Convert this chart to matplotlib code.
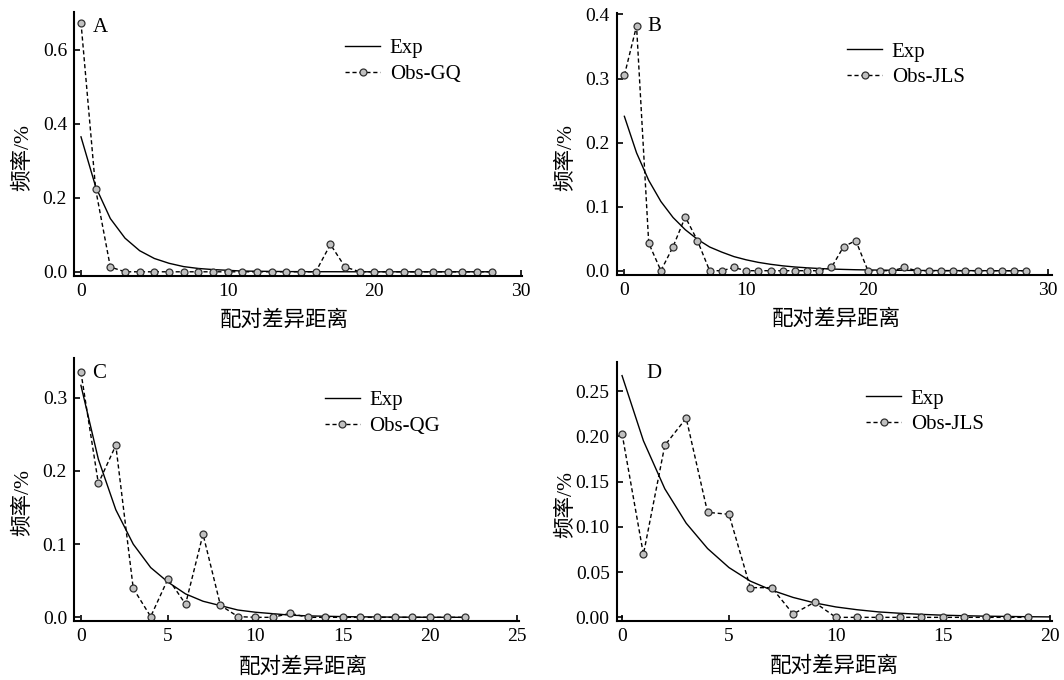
import matplotlib
matplotlib.use("Agg")
import matplotlib.pyplot as plt

plt.rcParams['font.family'] = ['Liberation Serif', 'Noto Sans CJK SC']
plt.rcParams['axes.unicode_minus'] = False

# --- values ---
# A: GQ
obs_a = [0.674, 0.223, 0.013, 0, 0, 0, 0, 0, 0, 0, 0, 0, 0, 0, 0, 0, 0,
         0.074, 0.013, 0, 0, 0, 0, 0, 0, 0, 0, 0, 0]
exp_a = [0.365, 0.230, 0.144, 0.091, 0.057, 0.036, 0.023, 0.014, 0.009,
         0.006, 0.004, 0.002, 0.0015, 0.001, 0.0006, 0.0004, 0.0002, 0.0002,
         0.0001, 0, 0, 0, 0, 0, 0, 0, 0, 0, 0]

# B: JLS
obs_b = [0.305, 0.382, 0.043, 0, 0.0375, 0.084, 0.047, 0, 0, 0.005, 0, 0,
         0, 0, 0, 0, 0, 0.005, 0.0375, 0.047, 0, 0, 0, 0.005, 0, 0, 0, 0,
         0, 0, 0, 0, 0, 0]
exp_b = [0.241, 0.184, 0.141, 0.108, 0.083, 0.064, 0.049, 0.037, 0.029,
         0.022, 0.017, 0.013, 0.010, 0.0076, 0.0058, 0.0045, 0.0034, 0.0026,
         0.002, 0.0015, 0.0012, 0.0009, 0.0007, 0.0005, 0.0004, 0.0003,
         0.0002, 0.0002, 0.0001, 0.0001, 0, 0, 0, 0]

# C: QG
obs_c = [0.335, 0.183, 0.235, 0.0395, 0.001, 0.053, 0.018, 0.1136, 0.0164,
         0.001, 0, 0, 0.0055, 0, 0, 0, 0, 0, 0, 0, 0, 0, 0]
exp_c = [0.317, 0.216, 0.147, 0.100, 0.068, 0.048, 0.032, 0.022, 0.016,
         0.010, 0.007, 0.005, 0.003, 0.002, 0.0015, 0.001, 0.0007, 0.0005,
         0.0003, 0.0002, 0.0001, 0.0001, 0]

# D: JLS
obs_d = [0.203, 0.0696, 0.190, 0.220, 0.116, 0.1138, 0.0328, 0.0328, 0.0037,
         0.0166, 0, 0, 0, 0, 0, 0, 0, 0, 0, 0]
exp_d = [0.267, 0.195, 0.142, 0.104, 0.076, 0.055, 0.040, 0.030, 0.022,
         0.016, 0.0115, 0.0084, 0.006, 0.0045, 0.0033, 0.0024, 0.0018,
         0.0013, 0.001, 0.0007, 0.0005]

panels = [
    # letter, obs label, obs, exp, rect, xlim, ylim, xticks, xticklabels, yticks, yfmt,
    # legend anchor, letter pos, xlabel x
    ("A", "Obs-GQ", obs_a, exp_a, [0.0695, 0.594, 0.421, 0.388], (-0.48, 30.05), (-0.0116, 0.702),
     [0, 10, 20, 30], None, [0.0, 0.2, 0.4, 0.6], "{:.1f}", (0.605, 0.899), (0.042, 0.943), 0.47),
    # the reference puts its "30" label at the end of a longer axis
    ("B", "Obs-JLS", obs_b, exp_b, [0.5796, 0.5956, 0.409, 0.385], (-0.63, 35.1), (-0.0067, 0.402),
     [0, 10, 20, 34.8], ["0", "10", "20", "30"], [0.0, 0.1, 0.2, 0.3, 0.4], "{:.1f}", (0.529, 0.89), (0.07, 0.951), 0.505),
    ("C", "Obs-QG", obs_c, exp_c, [0.0695, 0.0872, 0.418, 0.387], (-0.4, 25.1), (-0.0046, 0.355),
     [0, 5, 10, 15, 20, 25], None, [0.0, 0.1, 0.2, 0.3], "{:.1f}", (0.564, 0.874), (0.04, 0.94), 0.515),
    ("D", "Obs-JLS", obs_d, exp_d, [0.5796, 0.0872, 0.409, 0.38], (-0.25, 20.1), (-0.0037, 0.2817),
     [0, 5, 10, 15, 20], None, [0.0, 0.05, 0.10, 0.15, 0.20, 0.25], "{:.2f}", (0.573, 0.897), (0.069, 0.957), 0.5),
]

fig = plt.figure(figsize=(10.64, 6.8), dpi=100)

for (letter, obs_label, obs, exp, rect, xlim, ylim, xticks, xtl, yticks, yfmt,
     leg_pos, letter_pos, xlab_x) in panels:
    ax = fig.add_axes(rect)
    ax.plot(range(len(exp)), exp, color="black", lw=1.0, label="Exp")
    ax.plot(range(len(obs)), obs, color="black", lw=1.0, dashes=(3, 2),
            marker="o", ms=5, mfc="#c0c0c0", mec="#303030", mew=0.9,
            label=obs_label)
    ax.set_xlim(*xlim)
    ax.set_ylim(*ylim)
    ax.set_xticks(xticks)
    if xtl:
        ax.set_xticklabels(xtl)
    ax.set_yticks(yticks)
    ax.set_yticklabels([yfmt.format(v) for v in yticks])
    for s in ["top", "right"]:
        ax.spines[s].set_visible(False)
    for s in ["left", "bottom"]:
        ax.spines[s].set_linewidth(1.5)
    ax.tick_params(direction="in", length=4, width=1.2, labelsize=14, pad=5)
    ax.set_xlabel("配对差异距离", fontsize=15.5)
    ax.set_ylabel("频率/%", fontsize=15.5)
    ax.xaxis.set_label_coords(xlab_x, -0.13 if letter in "AB" else -0.138)
    ax.yaxis.set_label_coords(-41.0 / (rect[2] * 1064), 0.45)
    ax.text(letter_pos[0], letter_pos[1], letter, transform=ax.transAxes,
            fontsize=15, va="center", ha="left")
    ax.legend(loc="upper left", bbox_to_anchor=leg_pos, frameon=False,
              fontsize=15, borderpad=0, borderaxespad=0, handlelength=1.7,
              handletextpad=0.45, labelspacing=0.3)

fig.savefig("out.png", dpi=100)
